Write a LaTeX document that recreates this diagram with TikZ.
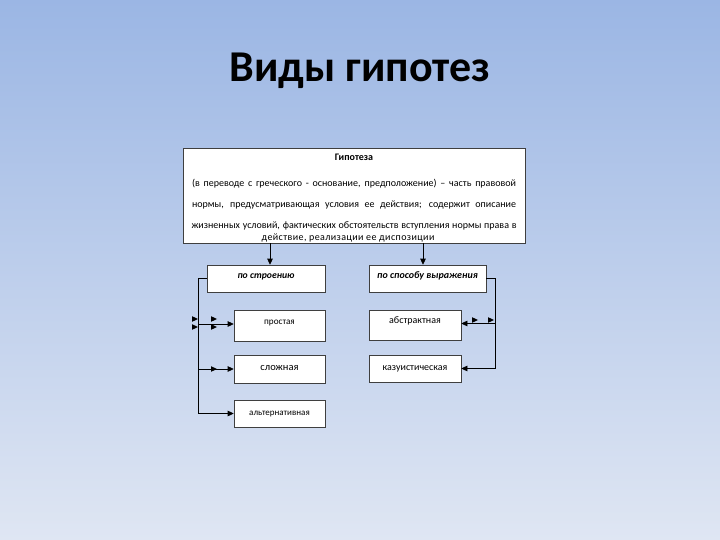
\documentclass[tikz,border=0pt]{standalone}
\usepackage{fontspec}
\setmainfont{Carlito}
\usetikzlibrary{arrows.meta, positioning}
\definecolor{bgtop}{HTML}{9BB6E4}
\definecolor{bgbot}{HTML}{DFE6F3}
\definecolor{frame}{HTML}{3F3F3F}

% small loose arrowhead, pointing right, tip at (#1,#2)
\newcommand{\tipmark}[2]{\fill (#1,#2) -- ++(-6,-2.8) -- ++(0,5.6) -- cycle;}

\begin{document}
\begin{tikzpicture}[x=1pt, y=-1pt, >={Triangle[length=6pt, width=5.6pt]},
  box/.style={draw=frame, fill=white, line width=0.7pt, inner sep=0pt, text height=5pt, text depth=8pt},
  wire/.style={draw=black, line width=0.7pt}]

% Background
\shade[top color=bgtop, bottom color=bgbot] (0,0) rectangle (720,540);
\useasboundingbox (0,0) rectangle (720,540);

% Title
\node[font=\fontsize{44}{50}\selectfont\bfseries] (title) at (360,71) {Виды гипотез};

% Main box
\node[box, minimum width=342pt, minimum height=95pt] (hyp) at (354,195.5) {};
\node[anchor=north, inner sep=0pt, align=center, font=\fontsize{10}{10}\selectfont] (hyptext) at (354,153.5)
  {\textbf{Гипотеза}\\[16pt]
   \makebox[324pt][s]{(в переводе  с  греческого - основание,  предположение) – часть  правовой}\\[11pt]
   \makebox[324pt][s]{нормы,  предусматривающая  условия  ее  действия;  содержит  описание}\\[11pt]
   \makebox[325pt][s]{жизненных условий, фактических обстоятельств вступления нормы права в}\\[2pt]
   \hspace*{-12pt}{\addfontfeature{LetterSpace=4}действие, реализации ее диспозиции}};

% Second level
\node[box, minimum width=118pt, minimum height=27pt, text depth=5pt, font=\fontsize{9.7}{11}\selectfont\bfseries\itshape] (stroy) at (266,278.5) {по строению};
\node[box, minimum width=117pt, minimum height=27pt, text depth=5pt, font=\fontsize{10}{11}\selectfont\bfseries\itshape] (sposob) at (427.5,278.5) {по способу выражения};

% Kinds
\node[box, minimum width=91pt, minimum height=31pt, font=\fontsize{9.2}{11}\selectfont] (prost) at (279.5,325.5) {простая};
\node[box, minimum width=91pt, minimum height=28pt, text depth=2pt, font=\fontsize{10.5}{12}\selectfont] (slozh) at (279.5,369) {сложная};
\node[box, minimum width=91pt, minimum height=27pt, text depth=2pt, font=\fontsize{9}{11}\selectfont] (alt) at (279.5,413.5) {альтернативная};
\node[box, minimum width=92pt, minimum height=30pt, font=\fontsize{10}{11}\selectfont] (abstr) at (415,325) {абстрактная};
\node[box, minimum width=92pt, minimum height=27pt, text depth=2pt, font=\fontsize{10}{11}\selectfont] (kazu) at (415,368.5) {казуистическая};

% Connectors
\coordinate (trunkL) at (198.5,278.5);
\coordinate (trunkR) at (495.5,278.5);
\draw[wire, ->] ([xshift=4pt]stroy.north |- hyp.south) -- ([xshift=4pt]stroy.north);
\draw[wire, ->] ([xshift=-4.5pt]sposob.north |- hyp.south) -- ([xshift=-4.5pt]sposob.north);
\draw[wire, ->] (stroy.west) -- (trunkL) |- (alt.west);
\draw[wire, ->] ([yshift=1.5pt]prost.west -| trunkL) -- ([yshift=1.5pt]prost.west);
\draw[wire, ->] (slozh.west -| trunkL) -- (slozh.west);
\draw[wire, ->] (sposob.east) -- (trunkR) |- (kazu.east);
\draw[wire, ->] ([yshift=1.5pt]abstr.east -| trunkR) -- ([yshift=1.5pt]abstr.east);

% Loose arrowheads
\tipmark{198}{319}
\tipmark{217}{319}
\tipmark{198}{327}
\tipmark{217}{327}
\tipmark{217}{369}
\tipmark{478}{320}
\tipmark{494}{320}

\end{tikzpicture}
\end{document}
